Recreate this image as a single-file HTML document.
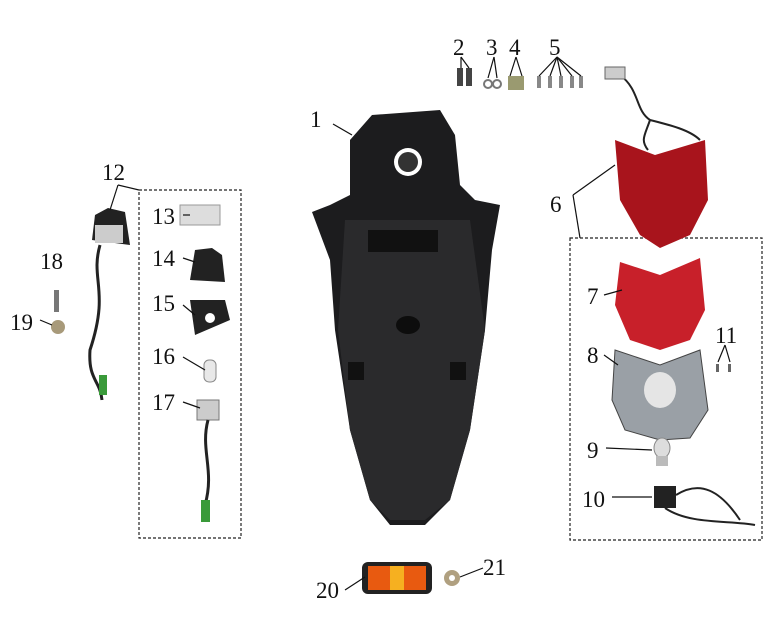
<!DOCTYPE html>
<html><head><meta charset="utf-8"><style>
html,body{margin:0;padding:0;background:#fff}
svg{display:block}
text{font-family:"Liberation Serif",serif;font-size:23px;fill:#111}
</style></head><body>
<svg width="784" height="630" viewBox="0 0 784 630" xmlns="http://www.w3.org/2000/svg">
<rect x="139" y="190" width="102" height="348" fill="none" stroke="#222" stroke-width="1.2" stroke-dasharray="3,2"/>
<rect x="570" y="238" width="192" height="302" fill="none" stroke="#222" stroke-width="1.2" stroke-dasharray="3,2"/>
<path d="M372 115 L440 110 L455 135 L460 185 L475 200 L500 205 L492 250 L485 330 L470 430 L450 500 L425 525 L390 525 L370 500 L350 430 L335 330 L330 260 L312 212 L330 205 L350 195 L350 140 Z" fill="#1c1c1e"/>
<path d="M345 220 L470 220 L485 330 L470 430 L450 500 L425 520 L390 520 L370 500 L350 430 L338 330 Z" fill="#2a2a2c"/>
<circle cx="408" cy="162" r="14" fill="#fff"/>
<circle cx="408" cy="162" r="10" fill="#333"/>
<ellipse cx="408" cy="325" rx="12" ry="9" fill="#0d0d0d"/>
<rect x="368" y="230" width="70" height="22" fill="#111"/>
<rect x="348" y="362" width="16" height="18" fill="#111"/>
<rect x="450" y="362" width="16" height="18" fill="#111"/>
<path d="M615 140 L655 155 L705 140 L708 200 L690 235 L660 248 L640 235 L620 200 Z" fill="#a8141c"/>
<path d="M620 75 C640 90 635 110 650 120 C645 135 640 140 648 150 M650 120 C670 125 690 130 700 140" stroke="#222" stroke-width="2" fill="none"/>
<rect x="605" y="67" width="20" height="12" fill="#ccc" stroke="#666"/>
<path d="M620 262 L660 275 L700 258 L705 310 L690 340 L660 350 L630 340 L615 305 Z" fill="#c8202a"/>
<path d="M615 350 L660 365 L700 350 L708 410 L690 438 L660 440 L625 430 L612 400 Z" fill="#9aa0a6" stroke="#444"/>
<ellipse cx="660" cy="390" rx="16" ry="18" fill="#e5e5e5"/>
<ellipse cx="662" cy="448" rx="8" ry="10" fill="#ddd" stroke="#888"/>
<rect x="656" y="456" width="12" height="10" fill="#bbb"/>
<rect x="654" y="486" width="22" height="22" fill="#222"/>
<path d="M676 495 C700 480 720 490 740 520 M665 508 C690 525 730 520 755 525" stroke="#222" stroke-width="2" fill="none"/>
<rect x="716" y="364" width="3" height="8" fill="#666"/><rect x="728" y="364" width="3" height="8" fill="#666"/>
<rect x="457" y="68" width="6" height="18" fill="#444"/><rect x="466" y="68" width="6" height="18" fill="#444"/>
<circle cx="488" cy="84" r="4" fill="none" stroke="#777" stroke-width="2"/><circle cx="497" cy="84" r="4" fill="none" stroke="#777" stroke-width="2"/>
<rect x="508" y="76" width="16" height="14" fill="#9a9a70"/>
<g fill="#888"><rect x="537" y="76" width="4" height="12"/><rect x="548" y="76" width="4" height="12"/><rect x="559" y="76" width="4" height="12"/><rect x="570" y="76" width="4" height="12"/><rect x="579" y="76" width="4" height="12"/></g>
<path d="M92 240 L95 215 L108 208 L125 212 L130 245 Z" fill="#222"/>
<rect x="95" y="225" width="28" height="18" fill="#ccc"/>
<path d="M100 245 C90 280 110 290 90 350 C88 380 100 380 102 400" stroke="#222" stroke-width="3" fill="none"/>
<rect x="99" y="375" width="8" height="20" fill="#3a9a3a"/>
<rect x="54" y="290" width="5" height="22" fill="#777"/>
<circle cx="58" cy="327" r="7" fill="#a89a7a"/>
<rect x="180" y="205" width="40" height="20" fill="#ddd" stroke="#999"/>
<path d="M190 280 L195 250 L212 248 L222 255 L225 282 Z" fill="#222"/>
<path d="M190 300 L225 300 L230 320 L195 335 Z" fill="#222"/><circle cx="210" cy="318" r="5" fill="#fff"/>
<rect x="204" y="360" width="12" height="22" rx="5" fill="#e8e8e8" stroke="#888"/>
<rect x="197" y="400" width="22" height="20" fill="#ccc" stroke="#777"/>
<path d="M208 420 C200 450 215 470 205 505" stroke="#222" stroke-width="3" fill="none"/>
<rect x="201" y="500" width="9" height="22" fill="#3a9a3a"/>
<rect x="362" y="562" width="70" height="32" rx="6" fill="#222"/>
<rect x="368" y="566" width="58" height="24" fill="#e85a10"/>
<rect x="390" y="566" width="14" height="24" fill="#f6b020"/>
<circle cx="452" cy="578" r="8" fill="#b0a080"/><circle cx="452" cy="578" r="3" fill="#fff"/>
<g stroke="#111" stroke-width="1.2" fill="none">
<line x1="333" y1="124" x2="352" y2="135"/>
<line x1="461" y1="57" x2="461" y2="68"/><line x1="461" y1="57" x2="469" y2="68"/>
<line x1="494" y1="57" x2="488" y2="78"/><line x1="494" y1="57" x2="497" y2="78"/>
<line x1="516" y1="57" x2="510" y2="76"/><line x1="516" y1="57" x2="522" y2="76"/>
<line x1="557" y1="57" x2="539" y2="76"/><line x1="557" y1="57" x2="550" y2="76"/><line x1="557" y1="57" x2="561" y2="76"/><line x1="557" y1="57" x2="572" y2="76"/><line x1="557" y1="57" x2="581" y2="76"/>
<line x1="573" y1="195" x2="615" y2="165"/><line x1="573" y1="195" x2="580" y2="238"/>
<line x1="604" y1="295" x2="622" y2="290"/>
<line x1="604" y1="355" x2="618" y2="365"/>
<line x1="606" y1="448" x2="652" y2="450"/>
<line x1="612" y1="497" x2="652" y2="497"/>
<line x1="725" y1="345" x2="718" y2="362"/><line x1="725" y1="345" x2="730" y2="362"/>
<line x1="118" y1="185" x2="110" y2="210"/><line x1="118" y1="185" x2="139" y2="190"/>
<line x1="183" y1="215" x2="190" y2="215"/>
<line x1="183" y1="258" x2="195" y2="262"/>
<line x1="183" y1="305" x2="195" y2="315"/>
<line x1="183" y1="357" x2="205" y2="370"/>
<line x1="183" y1="402" x2="200" y2="408"/>
<line x1="40" y1="320" x2="52" y2="325"/>
<line x1="345" y1="590" x2="365" y2="577"/>
<line x1="483" y1="568" x2="460" y2="577"/>
</g>
<text x="310" y="127">1</text>
<text x="453" y="55">2</text><text x="486" y="55">3</text><text x="509" y="55">4</text><text x="549" y="55">5</text>
<text x="550" y="212">6</text><text x="587" y="304">7</text><text x="587" y="363">8</text>
<text x="587" y="458">9</text><text x="582" y="507">10</text><text x="715" y="343">11</text>
<text x="102" y="180">12</text><text x="152" y="224">13</text><text x="152" y="266">14</text>
<text x="152" y="311">15</text><text x="152" y="364">16</text><text x="152" y="410">17</text>
<text x="40" y="269">18</text><text x="10" y="330">19</text>
<text x="316" y="598">20</text><text x="483" y="575">21</text>
</svg>
</body></html>
